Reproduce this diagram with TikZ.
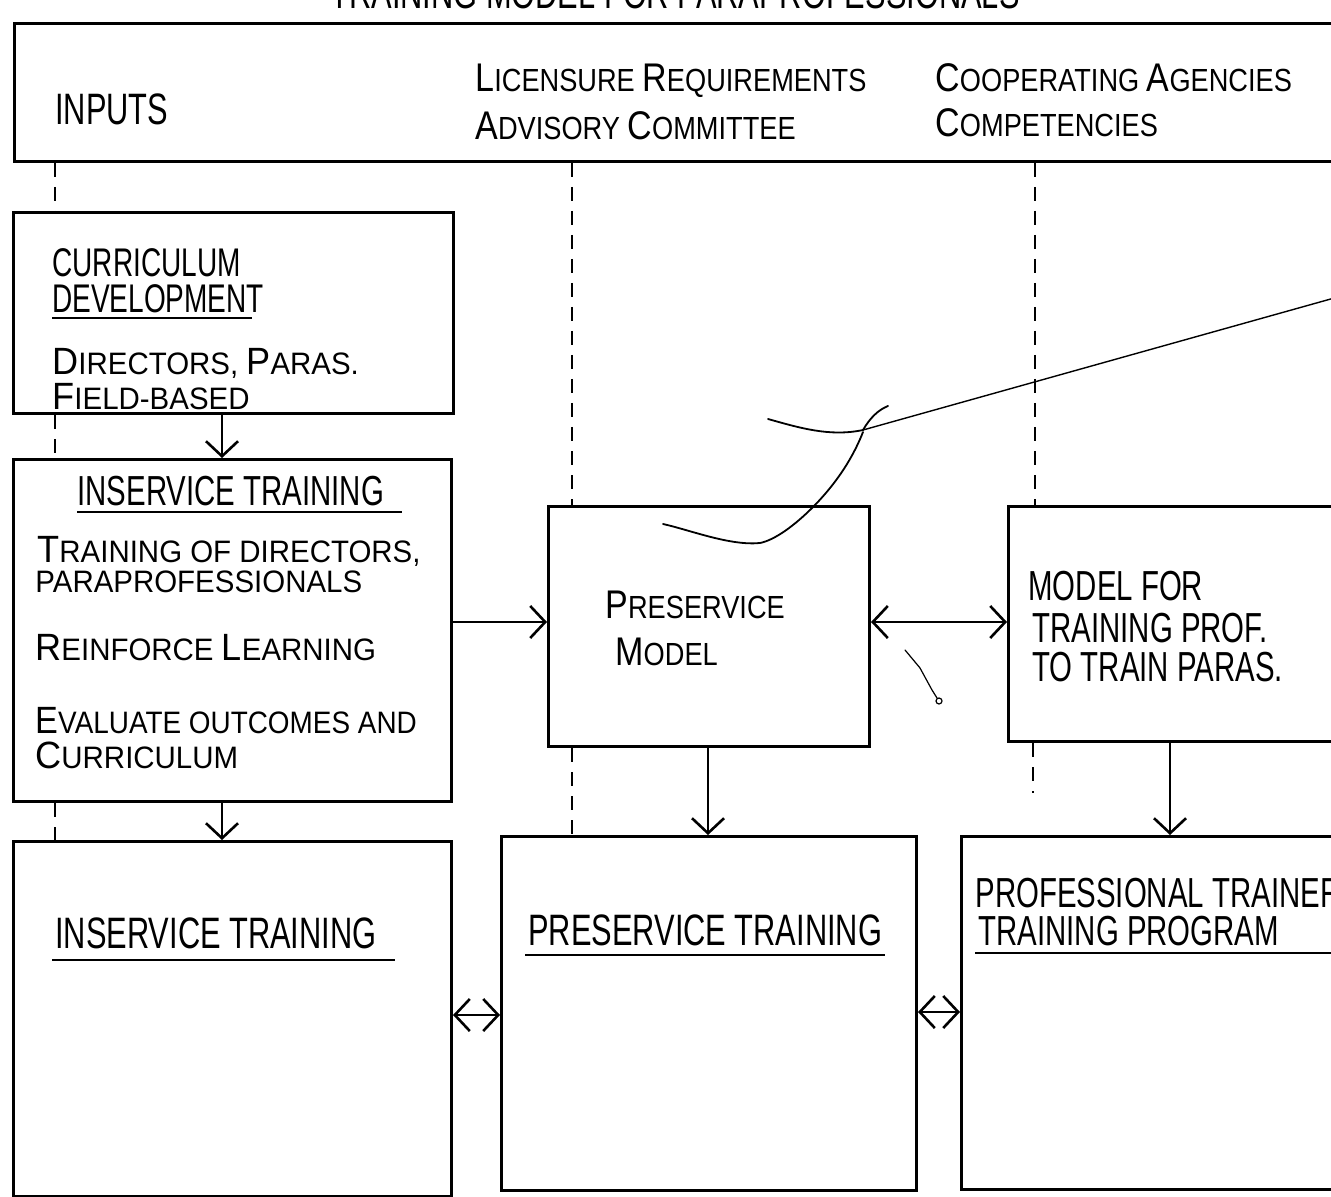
\documentclass[tikz,border=0pt]{standalone}
\usepackage{fontspec}
\setmainfont{Liberation Sans}
\newfontfamily\fA[FakeStretch=0.7]{Liberation Sans}
\newfontfamily\fB[FakeStretch=0.85]{Liberation Sans}
\newfontfamily\fC[FakeStretch=0.95]{Liberation Sans}
\newfontfamily\fD[FakeStretch=0.9]{Liberation Sans}
\usetikzlibrary{arrows.meta}
\newcommand\BgH[1]{{\fontsize{20}{20}\selectfont #1}}
\newcommand\BgB[1]{{\fontsize{19}{19}\selectfont #1}}
\begin{document}
\begin{tikzpicture}[x=0.5pt,y=-0.5pt,
  box/.style={draw, line width=1.5pt, anchor=north west, inner sep=0pt},
  txt/.style={inner sep=0pt, anchor=base west},
  head/.style={txt, font=\fA\fontsize{22}{22}\selectfont},
  headm/.style={txt, font=\fA\fontsize{21}{21}\selectfont},
  hdr/.style={txt, font=\fB\fontsize{16}{16}\selectfont},
  body/.style={txt, font=\fC\fontsize{15.5}{15.5}\selectfont},
  arr/.style={line width=1.1pt, -{Straight Barb[length=7.5pt,width=16pt,line width=1.3pt]}},
  darr/.style={line width=1.1pt, {Straight Barb[length=7.5pt,width=16pt,line width=1.3pt]}-{Straight Barb[length=7.5pt,width=16pt,line width=1.3pt]}},
  dsh/.style={line width=1.1pt, dash pattern=on 7pt off 5pt},
  uline/.style={line width=1.1pt},
  stray/.style={line width=0.9pt, line cap=round, line join=round}
]
\useasboundingbox (0,0) rectangle (1331,1197);
\fill[white] (0,0) rectangle (1331,1197);
\clip (0,0) rectangle (1331,1197);

% title (cut off at the top of the page)
\node[head] (title) at (330,9) {TRAINING MODEL FOR PARAPROFESSIONALS};

% boxes
\node[box, minimum width=670pt, minimum height=69pt] (inputs) at (13,22) {};
\node[box, minimum width=220pt, minimum height=100.5pt] (cd) at (12,211) {};
\node[box, minimum width=219pt, minimum height=171pt] (ist) at (12,458) {};
\node[box, minimum width=160.5pt, minimum height=120pt] (pm) at (547,505) {};
\node[box, minimum width=175pt, minimum height=117.5pt] (mf) at (1007,505) {};
\node[box, minimum width=219pt, minimum height=177.5pt] (isb) at (12,840) {};
\node[box, minimum width=207.5pt, minimum height=177pt] (pt) at (500,835) {};
\node[box, minimum width=200pt, minimum height=176.5pt] (ptp) at (960,835) {};

% inputs texts
\node[head] (tin) at (55,125) {INPUTS};
\node[hdr] (tlic) at (475,92) {\BgH{L}ICENSURE \BgH{R}EQUIREMENTS};
\node[hdr] (tadv) at (475,140) {\BgH{A}DVISORY \BgH{C}OMMITTEE};
\node[hdr] (tcoop) at (935,92) {\BgH{C}OOPERATING \BgH{A}GENCIES};
\node[hdr] (tcomp) at (935,137) {\BgH{C}OMPETENCIES};

% curriculum development
\node[txt, font=\fA\fontsize{20}{20}\selectfont] (tcd1) at (52,277) {CURRICULUM};
\node[txt, font=\fA\fontsize{20}{20}\selectfont] (tcd2) at (52,313) {DEVELOPMENT};
\draw[uline] (52,318) -- (252,318);
\node[body] (tcd3) at (52,375) {\BgB{D}IRECTORS, \BgB{P}ARAS.};
\node[body] (tcd4) at (52,409) {\BgB{F}IELD-BASED};

% inservice training (top)
\node[headm] (tist) at (77,505) {INSERVICE TRAINING};
\draw[uline] (77,512) -- (402,512);
\node[body] (ti1) at (37,562) {\BgB{T}RAINING OF DIRECTORS,};
\node[body] (ti2) at (35,592) {PARAPROFESSIONALS};
\node[body] (ti3) at (35,660) {\BgB{R}EINFORCE \BgB{L}EARNING};
\node[body, font=\fD\fontsize{15.5}{15.5}\selectfont] (ti4) at (35,733) {\BgB{E}VALUATE OUTCOMES AND};
\node[body] (ti5) at (35,768) {\BgB{C}URRICULUM};

% preservice model
\node[hdr] (tpm1) at (605,618) {\BgH{P}RESERVICE};
\node[hdr] (tpm2) at (615,665) {\BgH{M}ODEL};

% model for training
\node[headm] (tmf1) at (1028,600) {MODEL FOR};
\node[headm] (tmf2) at (1032,642) {TRAINING PROF.};
\node[headm] (tmf3) at (1032,681) {TO TRAIN PARAS.};

% bottom row
\node[head] (tisb) at (55,948) {INSERVICE TRAINING};
\draw[uline] (52,960) -- (395,960);
\node[head] (tpt) at (528,945) {PRESERVICE TRAINING};
\draw[uline] (525,955) -- (885,955);
\node[headm] (tptp1) at (975,907) {PROFESSIONAL TRAINER};
\node[headm] (tptp2) at (978,945) {TRAINING PROGRAM};
\draw[uline] (975,953) -- (1340,953);

% dashed lines
\draw[dsh] (55,0 |- inputs.south) -- (55,0 |- cd.north);
\draw[dsh] (55,0 |- cd.south) -- (55,0 |- ist.north);
\draw[dsh] (55,0 |- ist.south) -- (55,0 |- isb.north);
\draw[dsh] (572,0 |- inputs.south) -- (572,0 |- pm.north);
\draw[dsh] (572,0 |- pm.south) -- (572,0 |- pt.north);
\draw[dsh] (1035,0 |- inputs.south) -- (1035,0 |- mf.north);
\coordinate (mfend) at (1033,793);
\draw[dsh] (1033,0 |- mf.south) -- (mfend);

% solid connectors
\draw[arr] (222,0 |- cd.south) -- (222,0 |- ist.north);
\draw[arr] (222,0 |- ist.south) -- (222,0 |- isb.north);
\draw[arr] (ist.east |- 0,622) -- (pm.west |- 0,622);
\draw[darr] (pm.east |- 0,622) -- (mf.west |- 0,622);
\draw[arr] (708,0 |- pm.south) -- (708,0 |- pt.north);
\draw[arr] (1170,0 |- mf.south) -- (1170,0 |- ptp.north);
\draw[darr] (isb.east |- 0,1015) -- (pt.west |- 0,1015);
\draw[darr] (pt.east |- 0,1012) -- (ptp.west |- 0,1012);

% stray pen marks on the scan
\draw[stray] (768,419) .. controls (800,428) and (830,437) .. (863,430);
\draw[stray] (863,430) .. controls (870,418) and (878,410) .. (888,406);
\draw[stray, line width=0.7pt] (863,430) -- (1345,295);
\draw[stray] (863,432) .. controls (850,465) and (830,490) .. (812,508)
  .. controls (795,525) and (775,540) .. (760,543)
  .. controls (730,546) and (690,530) .. (663,524);
\draw[stray, line width=0.6pt] (905,650) -- (920,668) -- (932,690) -- (937,698);
\draw[stray, line width=0.6pt] (939,701) circle[radius=1.5pt];
\end{tikzpicture}
\end{document}
